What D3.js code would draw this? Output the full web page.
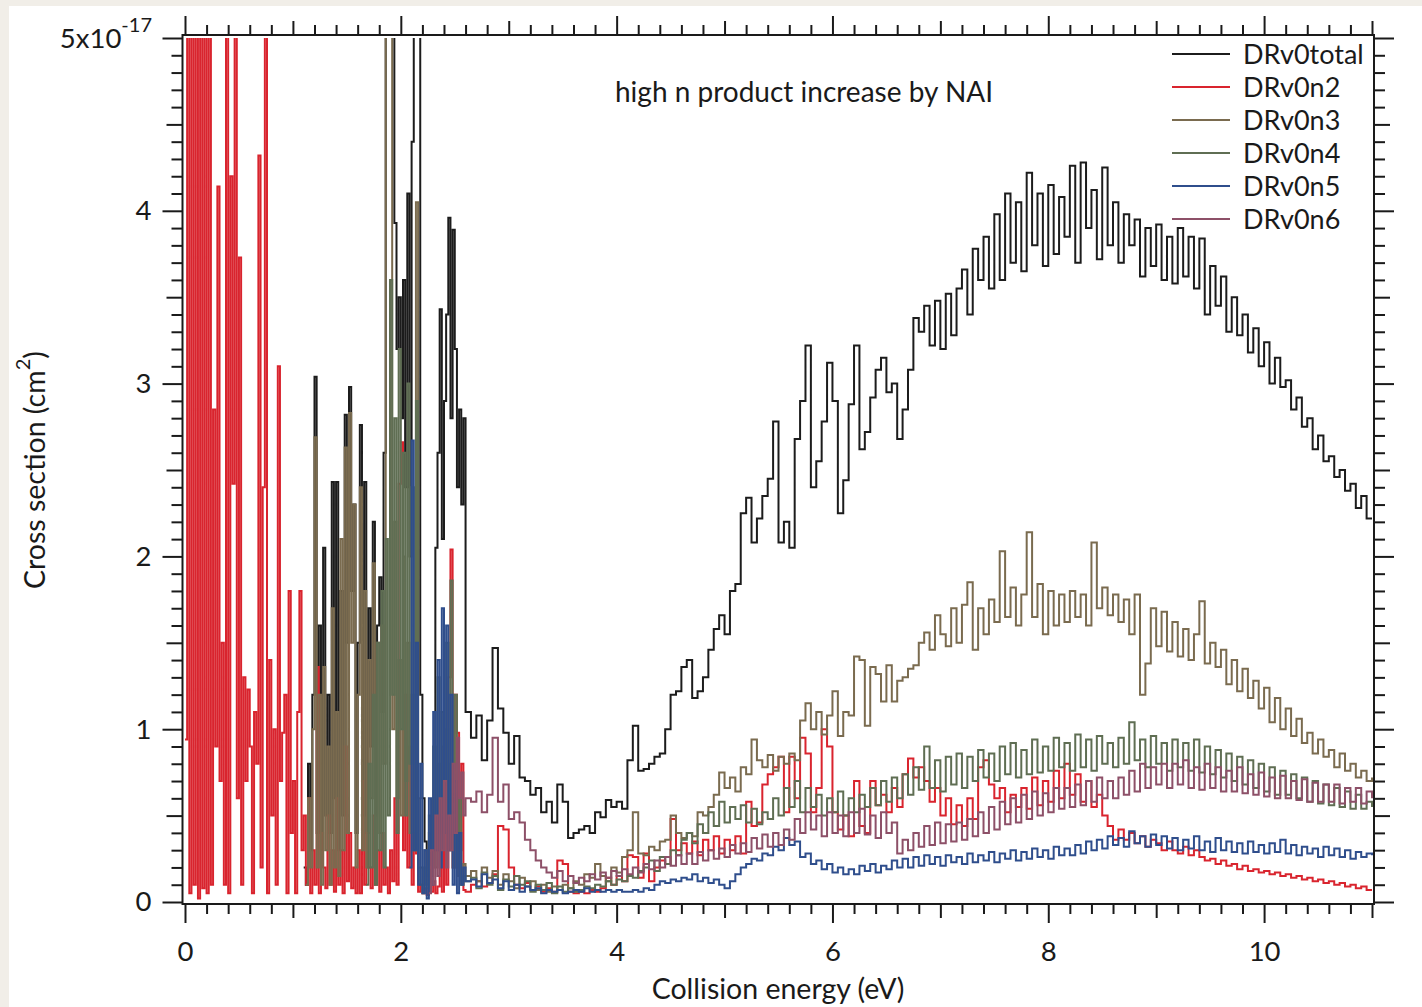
<!DOCTYPE html>
<html><head><meta charset="utf-8">
<script src="https://cdn.jsdelivr.net/npm/d3@7"></script>
<style>
html,body{margin:0;padding:0;background:#f1eee8;}
svg{display:block;}
text{font-family:Lato,"Open Sans",sans-serif;fill:#1a1a1a;}
</style></head><body>
<svg id="chart" width="1422" height="1007"></svg>
<script>
// ---------- data ----------
const seriesNames = ["DRv0total","DRv0n2","DRv0n3","DRv0n4","DRv0n5","DRv0n6"];
const seriesColors = ["#1c1c1c","#d9242e","#7a6b4f","#5f6e53","#2f4e8c","#8d5068"];
const xTickLabels = [0,2,4,6,8,10];
const yTickLabels = [0,1,2,3,4];
const titleText = "high n product increase by NAI";
const xTitle = "Collision energy (eV)";

// sampling grids (eV): fine grid 0–2.60, coarse grid 2.65–11.00
const energyLow = d3.range(131).map(i => Math.round(i * 2) / 100);
const energyHigh = d3.range(168).map(i => Math.round(265 + i * 5) / 100);

// values in units of 1e-17 cm^2 (null = no data)
const totalLow = [
 null,null,null,null,null,null,null,null,null,null,
 null,null,null,null,null,null,null,null,null,null,
 null,null,null,null,null,null,null,null,null,null,
 null,null,null,null,null,null,null,null,null,null,
 null,null,null,null,null,null,null,null,null,null,
 null,null,null,null,null,0.2,0.1,0.8,0.3,1.2,
 3.04,0.4,1.6,0.3,2.05,0.5,1.2,0.4,2.43,0.6,
 2.43,0.3,1.8,0.5,2.82,1.5,2.98,1.8,2.3,0.4,
 1.5,2.76,0.5,2.43,0.4,1.7,0.9,2.2,0.5,1.6,
 1.88,1.1,2.6,6,6,6,6,3.93,3.2,3.5,
 2.8,3.6,2.4,4.1,2.0,4.4,6,6,6,1.2,
 0.6,0.35,0.15,0.3,0.2,0.6,2.05,2.6,3.43,2.1,
 2.9,3.4,3.96,2.8,3.89,3.2,2.4,2.85,2.3,2.8,
 1.1];
const totalHigh = [
 0.95,1.08,0.82,1.05,1.47,1.12,0.98,0.80,0.96,0.72,
 0.70,0.62,0.66,0.52,0.58,0.46,0.68,0.58,0.37,0.40,
 0.42,0.44,0.40,0.52,0.49,0.59,0.55,0.58,0.54,0.82,
 1.02,0.76,0.77,0.80,0.84,0.86,1.00,1.20,1.22,1.36,
 1.40,1.18,1.22,1.30,1.46,1.58,1.66,1.55,1.80,1.84,
 2.25,2.34,2.08,2.22,2.35,2.45,2.78,2.08,2.20,2.05,
 2.68,2.90,3.22,2.40,2.55,2.78,3.12,2.90,2.25,2.44,
 2.88,3.22,2.62,2.72,2.92,3.08,3.15,2.95,3.00,2.68,
 2.85,3.08,3.38,3.30,3.45,3.22,3.48,3.20,3.52,3.28,
 3.55,3.66,3.40,3.78,3.60,3.85,3.55,3.98,3.60,4.10,
 3.70,4.05,3.65,4.22,3.80,4.10,3.68,4.15,3.75,4.08,
 3.85,4.26,3.70,4.28,3.90,4.12,3.72,4.25,3.80,4.05,
 3.70,3.98,3.80,3.95,3.62,3.90,3.68,3.92,3.60,3.85,
 3.58,3.90,3.62,3.85,3.55,3.84,3.40,3.68,3.45,3.62,
 3.30,3.50,3.28,3.40,3.18,3.32,3.10,3.24,3.00,3.15,
 2.98,3.02,2.85,2.92,2.75,2.80,2.62,2.70,2.55,2.58,
 2.46,2.50,2.38,2.42,2.28,2.35,2.22,2.22];

const n2Low = [
 0.94,6,0.05,6,0.1,6,0.02,6,0.08,6,
 0.05,6,0.1,2.85,0.9,4.14,0.7,1.5,0.1,6,
 0.05,4.2,2.42,6,0.6,3.73,0.1,1.3,0.7,1.23,
 0.9,0.05,1.1,0.8,4.32,0.2,2.4,6,0.05,1.4,
 0.5,1.0,0.1,3.1,0.7,0.98,1.2,0.05,1.8,0.4,
 0.7,0.05,1.1,1.8,0.3,0.5,0.1,0.6,0.05,0.3,
 0.1,1.36,0.05,0.4,0.2,0.08,0.5,0.1,0.3,0.06,
 0.6,0.1,0.3,0.05,0.9,0.12,0.4,0.08,0.2,0.05,
 0.3,0.05,0.7,0.1,0.4,0.2,0.08,0.5,0.1,0.3,
 0.06,0.4,0.1,0.2,0.05,0.3,0.12,0.6,0.1,2.42,
 2.66,0.3,1.2,0.2,0.9,0.1,0.4,0.28,0.06,0.1,
 0.05,0.08,0.04,0.1,0.06,0.12,0.05,0.09,0.3,0.06,
 0.5,0.1,1.3,2.04,0.2,1.2,0.98,0.3,0.8,0.07,
 0.06];
const n2High = [
 0.10,0.12,0.09,0.11,0.16,0.44,0.42,0.20,0.10,0.08,
 0.11,0.07,0.09,0.06,0.08,0.06,0.24,0.22,0.06,0.05,
 0.06,0.05,0.07,0.06,0.08,0.14,0.10,0.15,0.12,0.27,
 0.26,0.14,0.28,0.12,0.20,0.24,0.22,0.48,0.30,0.34,
 0.28,0.35,0.27,0.36,0.30,0.38,0.28,0.36,0.30,0.38,
 0.28,0.58,0.44,0.46,0.68,0.74,0.78,0.84,0.52,0.84,
 0.60,0.95,0.86,0.52,0.66,1.00,0.90,0.52,0.42,0.50,
 0.38,0.70,0.44,0.40,0.70,0.56,0.62,0.52,0.66,0.55,
 0.74,0.83,0.72,0.78,0.70,0.58,0.66,0.50,0.60,0.45,
 0.56,0.44,0.60,0.48,0.78,0.82,0.68,0.60,0.66,0.52,
 0.62,0.55,0.66,0.54,0.72,0.56,0.70,0.58,0.76,0.60,
 0.80,0.62,0.74,0.58,0.70,0.55,0.62,0.50,0.44,0.36,
 0.42,0.36,0.40,0.34,0.38,0.32,0.36,0.34,0.30,0.35,
 0.30,0.28,0.32,0.27,0.30,0.26,0.24,0.25,0.22,0.24,
 0.21,0.22,0.19,0.21,0.18,0.19,0.17,0.18,0.16,0.17,
 0.15,0.16,0.14,0.15,0.13,0.14,0.12,0.13,0.11,0.12,
 0.10,0.11,0.09,0.10,0.08,0.09,0.07,0.07];

const n3Low = [
 null,null,null,null,null,null,null,null,null,null,
 null,null,null,null,null,null,null,null,null,null,
 null,null,null,null,null,null,null,null,null,null,
 null,null,null,null,null,null,null,null,null,null,
 null,null,null,null,null,null,null,null,null,null,
 null,null,null,null,null,null,0.1,0.6,0.2,1.0,
 2.69,0.2,1.2,0.1,1.36,0.3,0.9,0.1,1.7,0.2,
 1.1,0.15,2.1,0.3,2.63,0.4,2.83,1.5,2.3,0.2,
 1.2,2.4,0.3,1.8,0.2,1.4,0.6,1.96,0.3,1.5,
 0.4,1.6,0.8,6,6,6,1.0,2.2,0.6,1.4,
 0.5,2.0,0.7,1.5,0.4,1.2,0.3,4.05,0.6,0.2,
 0.1,0.3,0.08,0.4,0.2,0.6,0.3,0.8,0.4,0.9,
 0.5,1.0,0.3,0.8,0.2,0.6,0.15,0.4,0.1,0.22,
 0.15];
const n3High = [
 0.18,0.12,0.20,0.14,0.18,0.10,0.16,0.12,0.08,0.14,
 0.09,0.12,0.07,0.10,0.06,0.09,0.07,0.10,0.08,0.12,
 0.10,0.16,0.14,0.22,0.15,0.12,0.20,0.17,0.26,0.30,
 0.52,0.28,0.27,0.32,0.30,0.35,0.36,0.50,0.40,0.37,
 0.40,0.38,0.52,0.50,0.55,0.62,0.75,0.66,0.72,0.64,
 0.78,0.74,0.94,0.82,0.78,0.85,0.76,0.84,0.80,0.86,
 0.82,1.05,1.15,1.00,1.10,0.97,1.08,1.22,0.96,1.10,
 1.08,1.42,1.40,1.02,1.36,1.32,1.16,1.37,1.16,1.28,
 1.30,1.35,1.37,1.50,1.56,1.46,1.66,1.55,1.48,1.70,
 1.50,1.72,1.85,1.46,1.70,1.55,1.75,1.62,2.03,1.65,
 1.82,1.60,1.78,2.14,1.65,1.84,1.55,1.80,1.60,1.78,
 1.62,1.80,1.65,1.78,1.60,2.08,1.70,1.82,1.66,1.78,
 1.62,1.75,1.55,1.78,1.20,1.38,1.70,1.48,1.68,1.45,
 1.62,1.42,1.58,1.40,1.55,1.74,1.38,1.50,1.36,1.46,
 1.26,1.40,1.22,1.35,1.18,1.28,1.12,1.24,1.04,1.18,
 1.00,1.12,0.96,1.06,0.92,0.98,0.86,0.94,0.84,0.88,
 0.78,0.86,0.76,0.80,0.72,0.76,0.70,0.72];

const n4Low = [
 null,null,null,null,null,null,null,null,null,null,
 null,null,null,null,null,null,null,null,null,null,
 null,null,null,null,null,null,null,null,null,null,
 null,null,null,null,null,null,null,null,null,null,
 null,null,null,null,null,null,null,null,null,null,
 null,null,null,null,null,null,null,null,null,null,
 null,null,null,null,null,null,null,null,null,null,
 null,null,null,null,null,null,null,null,null,null,
 null,null,null,null,0.1,0.8,0.2,1.2,0.1,1.5,
 0.3,1.8,0.2,2.1,0.5,3.6,1.2,2.8,0.4,3.2,
 1.0,2.6,0.5,3.0,0.8,2.4,0.3,2.9,0.2,0.1,
 0.05,0.2,0.1,0.5,0.15,0.9,0.2,1.3,0.3,1.1,
 0.4,1.5,0.5,1.86,0.3,1.2,0.2,0.6,0.1,0.15,
 0.12];
const n4High = [
 0.14,0.08,0.17,0.10,0.15,0.07,0.13,0.09,0.15,0.10,
 0.12,0.06,0.10,0.07,0.11,0.05,0.09,0.06,0.08,0.06,
 0.07,0.09,0.08,0.10,0.09,0.12,0.10,0.13,0.12,0.15,
 0.14,0.18,0.20,0.24,0.18,0.26,0.22,0.30,0.27,0.36,
 0.40,0.34,0.45,0.40,0.52,0.44,0.58,0.46,0.55,0.48,
 0.56,0.46,0.54,0.45,0.52,0.48,0.60,0.50,0.66,0.55,
 0.70,0.52,0.66,0.55,0.62,0.50,0.60,0.52,0.64,0.50,
 0.60,0.52,0.62,0.55,0.66,0.56,0.70,0.58,0.72,0.60,
 0.74,0.62,0.78,0.65,0.90,0.66,0.82,0.64,0.84,0.68,
 0.86,0.66,0.84,0.70,0.88,0.72,0.86,0.70,0.90,0.74,
 0.92,0.72,0.88,0.74,0.94,0.75,0.90,0.76,0.95,0.78,
 0.92,0.76,0.97,0.78,0.94,0.76,0.96,0.80,0.92,0.78,
 0.95,0.80,1.04,0.82,0.94,0.78,0.96,0.80,0.92,0.76,
 0.94,0.78,0.92,0.76,0.94,0.75,0.90,0.74,0.88,0.72,
 0.86,0.70,0.84,0.68,0.82,0.66,0.80,0.64,0.78,0.62,
 0.76,0.62,0.74,0.60,0.72,0.58,0.70,0.57,0.68,0.56,
 0.66,0.55,0.64,0.54,0.62,0.54,0.58,0.55];

const n5Low = [
 null,null,null,null,null,null,null,null,null,null,
 null,null,null,null,null,null,null,null,null,null,
 null,null,null,null,null,null,null,null,null,null,
 null,null,null,null,null,null,null,null,null,null,
 null,null,null,null,null,null,null,null,null,null,
 null,null,null,null,null,null,null,null,null,null,
 null,null,null,null,null,null,null,null,null,null,
 null,null,null,null,null,null,null,null,null,null,
 null,null,null,null,null,null,null,null,null,null,
 null,null,null,null,null,null,null,null,null,null,
 null,null,null,null,0.2,2.67,0.3,1.5,0.1,0.8,
 0.05,0.3,0.02,0.6,0.1,1.1,0.3,1.4,0.2,1.7,
 0.4,1.6,0.3,1.2,0.1,0.7,0.05,0.4,0.1,0.2,
 0.12];
const n5High = [
 0.13,0.09,0.16,0.11,0.13,0.08,0.12,0.07,0.10,0.06,
 0.09,0.07,0.08,0.05,0.07,0.06,0.07,0.05,0.06,0.07,
 0.06,0.08,0.06,0.07,0.06,0.07,0.06,0.07,0.06,0.06,
 0.07,0.06,0.08,0.07,0.10,0.12,0.11,0.13,0.12,0.14,
 0.13,0.16,0.12,0.14,0.11,0.13,0.10,0.08,0.12,0.16,
 0.20,0.22,0.25,0.24,0.28,0.27,0.32,0.30,0.37,0.33,
 0.35,0.26,0.28,0.22,0.24,0.19,0.22,0.17,0.20,0.16,
 0.19,0.16,0.21,0.18,0.22,0.17,0.21,0.19,0.24,0.20,
 0.25,0.20,0.26,0.21,0.27,0.22,0.26,0.21,0.27,0.23,
 0.26,0.22,0.28,0.23,0.27,0.24,0.29,0.23,0.28,0.25,
 0.30,0.24,0.29,0.25,0.31,0.26,0.30,0.25,0.32,0.27,
 0.31,0.27,0.33,0.28,0.35,0.30,0.36,0.31,0.38,0.33,
 0.37,0.32,0.41,0.34,0.38,0.32,0.39,0.33,0.38,0.31,
 0.37,0.30,0.36,0.31,0.38,0.30,0.35,0.29,0.37,0.30,
 0.35,0.29,0.34,0.28,0.35,0.29,0.33,0.28,0.34,0.29,
 0.36,0.28,0.33,0.27,0.32,0.28,0.31,0.26,0.32,0.27,
 0.31,0.26,0.30,0.25,0.29,0.26,0.28,0.27];

const n6Low = [
 null,null,null,null,null,null,null,null,null,null,
 null,null,null,null,null,null,null,null,null,null,
 null,null,null,null,null,null,null,null,null,null,
 null,null,null,null,null,null,null,null,null,null,
 null,null,null,null,null,null,null,null,null,null,
 null,null,null,null,null,null,null,null,null,null,
 null,null,null,null,null,null,null,null,null,null,
 null,null,null,null,null,null,null,null,null,null,
 null,null,null,null,null,null,null,null,null,null,
 null,null,null,null,null,null,null,null,null,null,
 null,null,null,null,null,null,null,null,null,null,
 null,null,null,0.05,0.3,0.1,0.5,0.15,0.6,0.3,
 0.7,0.2,0.5,0.3,0.8,0.4,0.95,0.6,0.75,0.5,
 0.6];
const n6High = [
 0.58,0.64,0.52,0.62,0.95,0.58,0.68,0.48,0.52,0.46,
 0.36,0.30,0.24,0.20,0.17,0.14,0.18,0.12,0.15,0.11,
 0.14,0.12,0.16,0.13,0.17,0.14,0.18,0.15,0.19,0.16,
 0.20,0.17,0.22,0.19,0.24,0.20,0.26,0.21,0.27,0.22,
 0.28,0.22,0.29,0.24,0.30,0.25,0.31,0.26,0.33,0.28,
 0.34,0.29,0.37,0.31,0.39,0.32,0.40,0.33,0.42,0.36,
 0.48,0.40,0.52,0.42,0.50,0.38,0.52,0.40,0.50,0.38,
 0.52,0.40,0.54,0.39,0.50,0.37,0.52,0.40,0.46,0.28,
 0.36,0.30,0.40,0.32,0.44,0.33,0.46,0.34,0.45,0.35,
 0.46,0.36,0.48,0.38,0.52,0.40,0.55,0.42,0.58,0.45,
 0.60,0.46,0.62,0.48,0.64,0.50,0.63,0.52,0.66,0.54,
 0.66,0.55,0.68,0.56,0.70,0.58,0.72,0.60,0.70,0.60,
 0.72,0.62,0.76,0.64,0.80,0.66,0.78,0.68,0.80,0.66,
 0.80,0.68,0.82,0.66,0.78,0.65,0.80,0.66,0.78,0.64,
 0.76,0.64,0.78,0.63,0.74,0.62,0.75,0.61,0.72,0.60,
 0.73,0.60,0.70,0.59,0.71,0.58,0.69,0.58,0.68,0.58,
 0.68,0.57,0.66,0.58,0.66,0.57,0.64,0.60];

const seriesLow = [totalLow, n2Low, n3Low, n4Low, n5Low, n6Low];
const seriesHigh = [totalHigh, n2High, n3High, n4High, n5High, n6High];

// ---------- drawing ----------
const FONT = 27.5;
const svg = d3.select("#chart");
svg.append("rect").attr("x", 9).attr("y", 6).attr("width", 1413).attr("height", 1001).attr("fill", "#ffffff");

const x = d3.scaleLinear().domain([0, 11]).range([185, 1372]);
const y = d3.scaleLinear().domain([0, 5]).range([902, 38]);

const frame = {left: 182.5, right: 1374, top: 35, bottom: 904};

svg.append("clipPath").attr("id", "plotclip")
  .append("rect").attr("x", frame.left).attr("y", y(5))
  .attr("width", frame.right - frame.left).attr("height", frame.bottom - y(5));

const line = d3.line()
  .defined(d => d.v != null)
  .curve(d3.curveStepAfter)
  .x(d => x(d.e)).y(d => y(d.v));

const plot = svg.append("g").attr("clip-path", "url(#plotclip)");
seriesNames.forEach((name, k) => {
  const pts = energyLow.map((e, i) => ({e, v: seriesLow[k][i]}))
    .concat(energyHigh.map((e, i) => ({e, v: seriesHigh[k][i]})));
  plot.append("path").datum(pts)
    .attr("fill", "none").attr("stroke", seriesColors[k])
    .attr("stroke-width", 2).attr("stroke-linejoin", "miter")
    .attr("d", line);
});

// ticks
const xMinor = d3.range(0, 56).map(i => i / 5).filter(v => Math.abs(v - Math.round(v)) > 1e-6);
const xMid = [1,3,5,7,9,11];
const xMajor = xTickLabels;
const yMinor = d3.range(0, 51).map(i => i / 10).filter(v => Math.abs(v * 2 - Math.round(v * 2)) > 1e-6);
const yMid = [0.5,1.5,2.5,3.5,4.5];
const yMajor = [0,1,2,3,4,5];

function addAxis(gen, tf, vals, size, labels) {
  const g = svg.append("g").attr("transform", tf)
    .call(gen.tickValues(vals).tickSize(size).tickSizeOuter(0)
      .tickFormat(labels ? (d => labels.includes(d) ? String(d) : "") : () => ""));
  g.select(".domain").remove();
  g.selectAll(".tick line").attr("stroke", "#1a1a1a").attr("stroke-width", 2);
  return g;
}
const tickFont = 'Lato,"Open Sans",sans-serif';
// bottom
addAxis(d3.axisBottom(x), `translate(0,${frame.bottom})`, xMinor, 10);
addAxis(d3.axisBottom(x), `translate(0,${frame.bottom})`, xMid, 14);
const gb = addAxis(d3.axisBottom(x).tickPadding(18), `translate(0,${frame.bottom})`, xMajor, 19, xTickLabels);
gb.selectAll("text").attr("font-size", FONT).attr("font-family", tickFont).attr("fill", "#1a1a1a");
// top
addAxis(d3.axisTop(x), `translate(0,${frame.top})`, xMinor, 10);
addAxis(d3.axisTop(x), `translate(0,${frame.top})`, xMid, 14);
addAxis(d3.axisTop(x), `translate(0,${frame.top})`, xMajor, 19);
// left
addAxis(d3.axisLeft(y), `translate(${frame.left},0)`, yMinor, 11);
addAxis(d3.axisLeft(y), `translate(${frame.left},0)`, yMid, 16);
const gl = addAxis(d3.axisLeft(y).tickPadding(11), `translate(${frame.left},0)`, yMajor, 20, yTickLabels);
gl.selectAll("text").attr("font-size", FONT).attr("font-family", tickFont).attr("fill", "#1a1a1a");
// right
addAxis(d3.axisRight(y), `translate(${frame.right},0)`, yMinor, 11);
addAxis(d3.axisRight(y), `translate(${frame.right},0)`, yMid, 16);
addAxis(d3.axisRight(y), `translate(${frame.right},0)`, yMajor, 20);

// frame
svg.append("rect").attr("x", frame.left).attr("y", frame.top)
  .attr("width", frame.right - frame.left).attr("height", frame.bottom - frame.top)
  .attr("fill", "none").attr("stroke", "#1a1a1a").attr("stroke-width", 2);

// top y label 5x10^-17
const topLab = svg.append("text").attr("x", 152).attr("y", y(5) + 10)
  .attr("text-anchor", "end").attr("font-size", FONT);
topLab.append("tspan").text("5x10");
topLab.append("tspan").attr("font-size", 20).attr("dy", -16).text("-17");

// axis titles
svg.append("text").attr("x", 778).attr("y", 999).attr("text-anchor", "middle")
  .attr("font-size", 28.5).text(xTitle);
const yt = svg.append("text").attr("transform", "translate(45,470) rotate(-90)")
  .attr("text-anchor", "middle").attr("font-size", 28.5);
yt.append("tspan").text("Cross section (cm");
yt.append("tspan").attr("font-size", 20).attr("dy", -15).text("2");
yt.append("tspan").attr("dy", 15).text(")");

// annotation
svg.append("text").attr("x", 615).attr("y", 102).attr("font-size", 28).text(titleText);

// legend
const leg = svg.append("g");
seriesNames.forEach((name, k) => {
  const ly = 54 + 33 * k;
  leg.append("line").attr("x1", 1172).attr("x2", 1230).attr("y1", ly).attr("y2", ly)
    .attr("stroke", seriesColors[k]).attr("stroke-width", 1.8);
  leg.append("text").attr("x", 1243).attr("y", ly).attr("dy", "0.36em")
    .attr("font-size", 27).text(name);
});
</script>
</body></html>
